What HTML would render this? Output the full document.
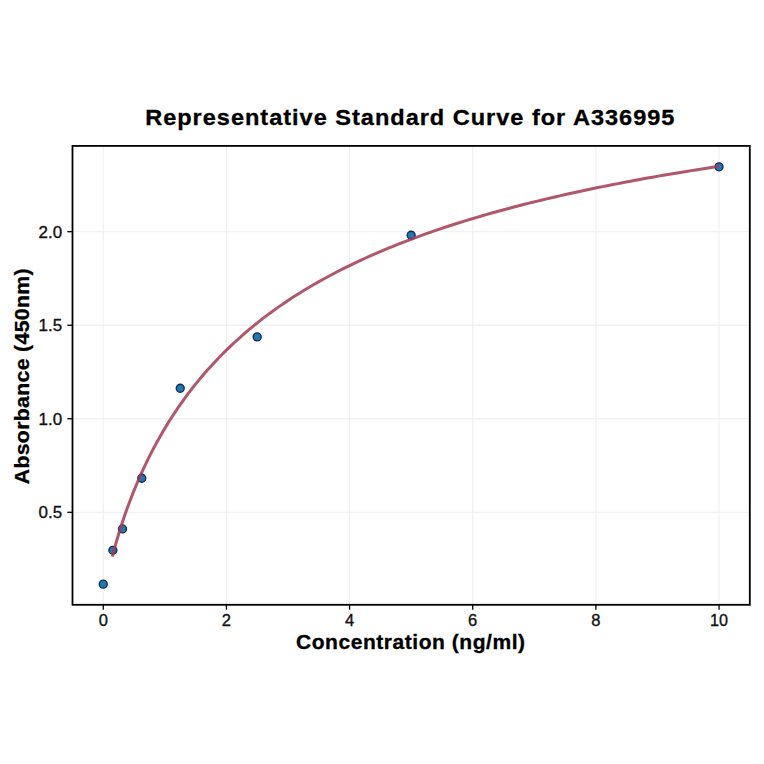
<!DOCTYPE html>
<html><head><meta charset="utf-8"><style>
html,body{margin:0;padding:0;background:#fff;}
svg{display:block;}
text{font-family:"Liberation Sans",sans-serif;}
</style></head><body>
<svg width="764" height="764" viewBox="0 0 764 764">
<rect width="764" height="764" fill="#fff"/>
<g stroke="#eeeeee" stroke-width="1">
<line x1="103.25" y1="145.9" x2="103.25" y2="604.8"/>
<line x1="226.41" y1="145.9" x2="226.41" y2="604.8"/>
<line x1="349.57" y1="145.9" x2="349.57" y2="604.8"/>
<line x1="472.73" y1="145.9" x2="472.73" y2="604.8"/>
<line x1="595.89" y1="145.9" x2="595.89" y2="604.8"/>
<line x1="719.05" y1="145.9" x2="719.05" y2="604.8"/>
<line x1="72.5" y1="512.30" x2="749.8" y2="512.30"/>
<line x1="72.5" y1="418.76" x2="749.8" y2="418.76"/>
<line x1="72.5" y1="325.23" x2="749.8" y2="325.23"/>
<line x1="72.5" y1="231.69" x2="749.8" y2="231.69"/>
</g>
<g stroke="#000" stroke-width="1.3">
<line x1="103.25" y1="604.8" x2="103.25" y2="609.7"/>
<line x1="226.41" y1="604.8" x2="226.41" y2="609.7"/>
<line x1="349.57" y1="604.8" x2="349.57" y2="609.7"/>
<line x1="472.73" y1="604.8" x2="472.73" y2="609.7"/>
<line x1="595.89" y1="604.8" x2="595.89" y2="609.7"/>
<line x1="719.05" y1="604.8" x2="719.05" y2="609.7"/>
<line x1="67.3" y1="512.30" x2="72.5" y2="512.30"/>
<line x1="67.3" y1="418.76" x2="72.5" y2="418.76"/>
<line x1="67.3" y1="325.23" x2="72.5" y2="325.23"/>
<line x1="67.3" y1="231.69" x2="72.5" y2="231.69"/>
</g>
<g font-size="16.3" fill="#111" stroke="#111" stroke-width="0.35">
<text x="98.65" y="626.1" textLength="9.20" lengthAdjust="spacingAndGlyphs">0</text>
<text x="221.81" y="626.1" textLength="9.20" lengthAdjust="spacingAndGlyphs">2</text>
<text x="344.97" y="626.1" textLength="9.20" lengthAdjust="spacingAndGlyphs">4</text>
<text x="468.13" y="626.1" textLength="9.20" lengthAdjust="spacingAndGlyphs">6</text>
<text x="591.29" y="626.1" textLength="9.20" lengthAdjust="spacingAndGlyphs">8</text>
<text x="710.05" y="626.1" textLength="18.00" lengthAdjust="spacingAndGlyphs">10</text>
<text x="38.6" y="518.15" textLength="23.6" lengthAdjust="spacingAndGlyphs">0.5</text>
<text x="38.6" y="424.62" textLength="23.6" lengthAdjust="spacingAndGlyphs">1.0</text>
<text x="38.6" y="331.08" textLength="23.6" lengthAdjust="spacingAndGlyphs">1.5</text>
<text x="38.6" y="237.54" textLength="23.6" lengthAdjust="spacingAndGlyphs">2.0</text>
</g>
<g fill="#1f77b4" stroke="#0d2b48" stroke-width="1.3">
<circle cx="103.25" cy="584.13" r="4.0"/>
<circle cx="112.87" cy="550.28" r="4.0"/>
<circle cx="122.49" cy="528.95" r="4.0"/>
<circle cx="141.74" cy="478.25" r="4.0"/>
<circle cx="180.22" cy="388.27" r="4.0"/>
<circle cx="257.20" cy="336.90" r="4.0"/>
<circle cx="411.15" cy="235.25" r="4.0"/>
<circle cx="719.05" cy="166.78" r="4.0"/>
</g>
<path d="M112.36,556.51 L113.25,553.10 L114.14,549.78 L115.03,546.54 L115.92,543.37 L116.81,540.28 L117.70,537.26 L118.59,534.30 L119.48,531.40 L120.37,528.56 L121.26,525.77 L122.15,523.04 L123.03,520.35 L123.92,517.71 L124.81,515.11 L125.70,512.56 L126.59,510.06 L127.48,507.59 L128.37,505.16 L129.26,502.76 L130.15,500.41 L131.04,498.09 L131.93,495.80 L132.82,493.54 L133.71,491.32 L134.60,489.13 L135.48,486.97 L136.37,484.83 L137.26,482.73 L138.15,480.65 L139.04,478.60 L139.93,476.58 L140.82,474.58 L141.71,472.60 L142.60,470.65 L143.49,468.73 L144.38,466.82 L145.27,464.94 L146.16,463.08 L147.04,461.25 L147.93,459.43 L148.82,457.63 L149.71,455.86 L150.60,454.10 L151.49,452.36 L152.38,450.64 L153.27,448.94 L154.16,447.26 L155.05,445.60 L155.94,443.95 L156.83,442.32 L157.72,440.71 L158.61,439.11 L159.49,437.53 L160.38,435.96 L161.27,434.41 L162.16,432.88 L163.05,431.36 L163.94,429.85 L164.83,428.36 L169.49,420.78 L174.14,413.55 L178.80,406.65 L183.46,400.05 L188.12,393.73 L192.77,387.66 L197.43,381.84 L202.09,376.24 L206.75,370.85 L211.40,365.66 L216.06,360.65 L220.72,355.81 L225.38,351.14 L230.03,346.62 L234.69,342.25 L239.35,338.02 L244.00,333.91 L248.66,329.94 L253.32,326.08 L257.98,322.33 L262.63,318.69 L267.29,315.15 L271.95,311.72 L276.61,308.37 L281.26,305.11 L285.92,301.94 L290.58,298.85 L295.23,295.84 L299.89,292.90 L304.55,290.04 L309.21,287.24 L313.86,284.51 L318.52,281.85 L323.18,279.25 L327.84,276.70 L332.49,274.22 L337.15,271.78 L341.81,269.41 L346.47,267.08 L351.12,264.80 L355.78,262.57 L360.44,260.39 L365.09,258.25 L369.75,256.15 L374.41,254.10 L379.07,252.09 L383.72,250.11 L388.38,248.18 L393.04,246.28 L397.70,244.42 L402.35,242.59 L407.01,240.80 L411.67,239.03 L416.32,237.30 L420.98,235.60 L425.64,233.93 L430.30,232.29 L434.95,230.68 L439.61,229.10 L444.27,227.54 L448.93,226.01 L453.58,224.50 L458.24,223.02 L462.90,221.57 L467.56,220.13 L472.21,218.72 L476.87,217.33 L481.53,215.97 L486.18,214.62 L490.84,213.30 L495.50,211.99 L500.16,210.71 L504.81,209.44 L509.47,208.20 L514.13,206.97 L518.79,205.76 L523.44,204.56 L528.10,203.39 L532.76,202.23 L537.41,201.09 L542.07,199.96 L546.73,198.85 L551.39,197.75 L556.04,196.67 L560.70,195.61 L565.36,194.55 L570.02,193.52 L574.67,192.49 L579.33,191.48 L583.99,190.49 L588.65,189.50 L593.30,188.53 L597.96,187.57 L602.62,186.62 L607.27,185.69 L611.93,184.76 L616.59,183.85 L621.25,182.95 L625.90,182.06 L630.56,181.18 L635.22,180.31 L639.88,179.45 L644.53,178.60 L649.19,177.77 L653.85,176.94 L658.50,176.12 L663.16,175.31 L667.82,174.51 L672.48,173.72 L677.13,172.94 L681.79,172.16 L686.45,171.40 L691.11,170.64 L695.76,169.90 L700.42,169.16 L705.08,168.43 L709.74,167.70 L714.39,166.99 L719.05,166.28" fill="none" stroke="#a23a52" stroke-opacity="0.85" stroke-width="3" stroke-linejoin="round"/>
<rect x="72.5" y="145.9" width="677.3" height="458.9" fill="none" stroke="#000" stroke-width="1.8"/>
<g font-weight="bold" fill="#000" stroke="#000" stroke-width="0.3">
<text x="145.2" y="125.4" font-size="21.6" textLength="530.2" lengthAdjust="spacingAndGlyphs" letter-spacing="0.9">Representative Standard Curve for A336995</text>
<text x="296.0" y="649.2" font-size="19.8" textLength="229.6" lengthAdjust="spacingAndGlyphs" letter-spacing="0.5">Concentration (ng/ml)</text>
<text transform="translate(28.6,484.3) rotate(-90)" x="0" y="0" font-size="20.4" textLength="216.2" lengthAdjust="spacingAndGlyphs" letter-spacing="0.3">Absorbance (450nm)</text>
</g>
</svg>
</body></html>
